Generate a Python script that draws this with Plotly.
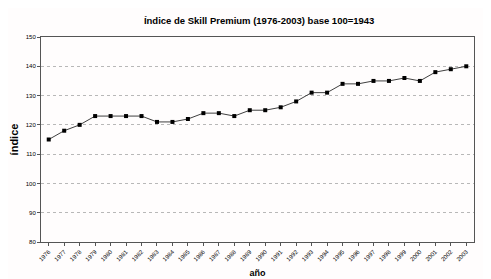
import plotly.graph_objects as go

years = [str(y) for y in range(1976, 2004)]
values = [115, 118, 120, 123, 123, 123, 123, 121, 121, 122, 124, 124, 123, 125,
          125, 126, 128, 131, 131, 134, 134, 135, 135, 136, 135, 138, 139, 140]
y_ticks = [80, 90, 100, 110, 120, 130, 140, 150]

fig = go.Figure()
fig.add_trace(go.Scatter(
    x=years, y=values, mode="lines+markers",
    line=dict(color="#404040", width=1),
    marker=dict(symbol="square", size=4, color="black"),
    showlegend=False,
))

font = "Liberation Sans, Arial, sans-serif"
# page body has an 8px margin, so the figure is sized/offset to compensate
fig.update_layout(
    width=483, height=271,
    margin=dict(l=33, r=17, t=29, b=37, autoexpand=False),
    paper_bgcolor="#fffdfd",
    plot_bgcolor="#fffdfd",
    font=dict(family=font, color="black"),
    title=dict(text="<b>Índice de Skill Premium (1976-2003) base 100=1943</b>",
               x=0.52, xanchor="center", y=0.952, yanchor="middle",
               font=dict(size=9.5, family=font)),
)
fig.update_xaxes(
    type="category", range=[-0.5, 27.5], automargin=False,
    tickangle=-45, tickfont=dict(size=6),
    showline=True, linecolor="#555555", linewidth=1, mirror=True,
    showgrid=False, ticks="outside", ticklen=3, tickcolor="#555555",
    title=dict(text="<b>año</b>", font=dict(size=9), standoff=8),
)
fig.update_yaxes(
    range=[80, 150], tickvals=y_ticks, tickfont=dict(size=6), automargin=False,
    showline=True, linecolor="#555555", linewidth=1, mirror=True,
    showgrid=True, gridcolor="#b8b8b8", griddash="dot", gridwidth=1,
    ticks="outside", ticklen=3, tickcolor="#555555",
    title=dict(text="<b>índice</b>", font=dict(size=11), standoff=4),
)

fig.write_html("out.html")
